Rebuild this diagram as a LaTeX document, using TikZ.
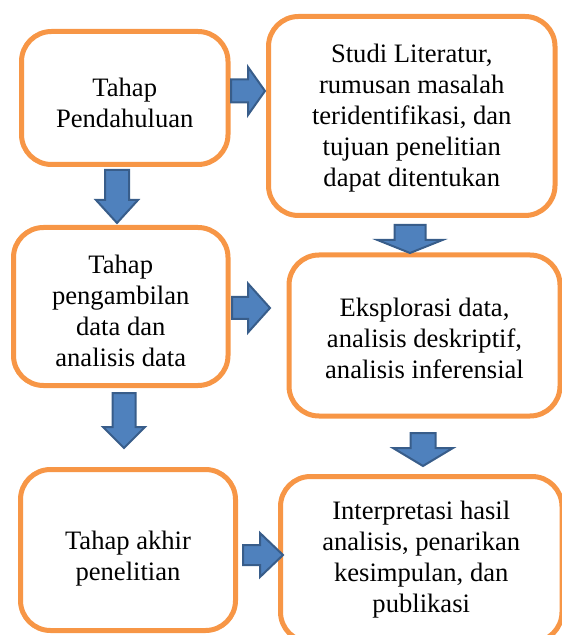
\documentclass[tikz,border=0pt]{standalone}
\usepackage{fontspec}
\setmainfont{Liberation Serif}
\definecolor{boxorange}{HTML}{F79646}
\definecolor{arrowfill}{HTML}{4F81BD}
\definecolor{arrowline}{HTML}{385D8A}
% block arrow: tail coordinate, angle, length, head length, shaft half width, head half width
\newcommand{\blockArrow}[6]{\filldraw [blockarrow,shift={(#1)},rotate=#2] (0,-#5) -- (#3-#4,-#5) -- (#3-#4,-#6) -- (#3,0) -- (#3-#4,#6) -- (#3-#4,#5) -- (0,#5) -- cycle;}
\tikzset{
  stage/.style={draw=boxorange, line width=2.5pt, rounded corners=15pt, fill=white, inner sep=0pt},
  stagetext/.style={align=center, inner sep=0pt, font=\fontsize{13.3}{15.5}\selectfont},
  blockarrow/.style={fill=arrowfill, draw=arrowline, line width=1pt, line join=miter}
}

\begin{document}
\begin{tikzpicture}[x=0.5pt,y=-0.5pt]
  \useasboundingbox (0,0) rectangle (561,635);

  % left column
  \node [stage, minimum width=103.25pt, minimum height=66.5pt] (pend) at (124.75,98) {};
  \node [stagetext] (pendText) at ([yshift=-2.5pt]pend.center) {Tahap\\Pendahuluan};
  \node [stage, minimum width=107.25pt, minimum height=79pt] (ambil) at (120.75,306.5) {};
  \node [stagetext] (ambilText) at ([yshift=-2pt]ambil.center) {Tahap\\pengambilan\\data dan\\analisis data};
  \node [stage, minimum width=107.5pt, minimum height=80.5pt] (akhir) at (128,550) {};
  \node [stagetext] (akhirText) at ([yshift=-4.5pt]akhir.center) {Tahap akhir\\penelitian};

  % right column
  \node [stage, minimum width=143.25pt, minimum height=99.5pt] (studi) at (411.75,116) {};
  \node [stagetext] (studiText) at ([yshift=-1pt]studi.center) {Studi Literatur,\\rumusan masalah\\teridentifikasi, dan\\tujuan penelitian\\dapat ditentukan};
  \node [stage, minimum width=135.5pt, minimum height=80.5pt] (eksplor) at (424.5,335.5) {};
  \node [stagetext] (eksplorText) at ([yshift=-1.5pt]eksplor.center) {Eksplorasi data,\\analisis deskriptif,\\analisis inferensial};
  \node [stage, minimum width=140.75pt, minimum height=82.75pt] (interp) at (421.25,559.25) {};
  \node [stagetext] (interpText) at (interp.center) {Interpretasi hasil\\analisis, penarikan\\kesimpulan, dan\\publikasi};

  % arrow tails
  \coordinate (pendR) at (231,91);
  \coordinate (ambilR) at (232,308);
  \coordinate (akhirR) at (243,555);
  \coordinate (pendD) at (117,170);
  \coordinate (ambilD) at (124,393);
  \coordinate (studiD) at (410,225);
  \coordinate (eksplorD) at (423,433);

  \blockArrow{pendR}{0}{34}{17}{11.5}{24}
  \blockArrow{ambilR}{0}{38}{22}{11}{24.5}
  \blockArrow{akhirR}{0}{40}{23}{10}{22}
  \blockArrow{pendD}{-90}{53}{23}{12}{21}
  \blockArrow{ambilD}{-90}{55}{21}{11.5}{21}
  \blockArrow{studiD}{-90}{28}{13}{15.5}{32.5}
  \blockArrow{eksplorD}{-90}{33}{18}{12.5}{30}
\end{tikzpicture}
\end{document}
